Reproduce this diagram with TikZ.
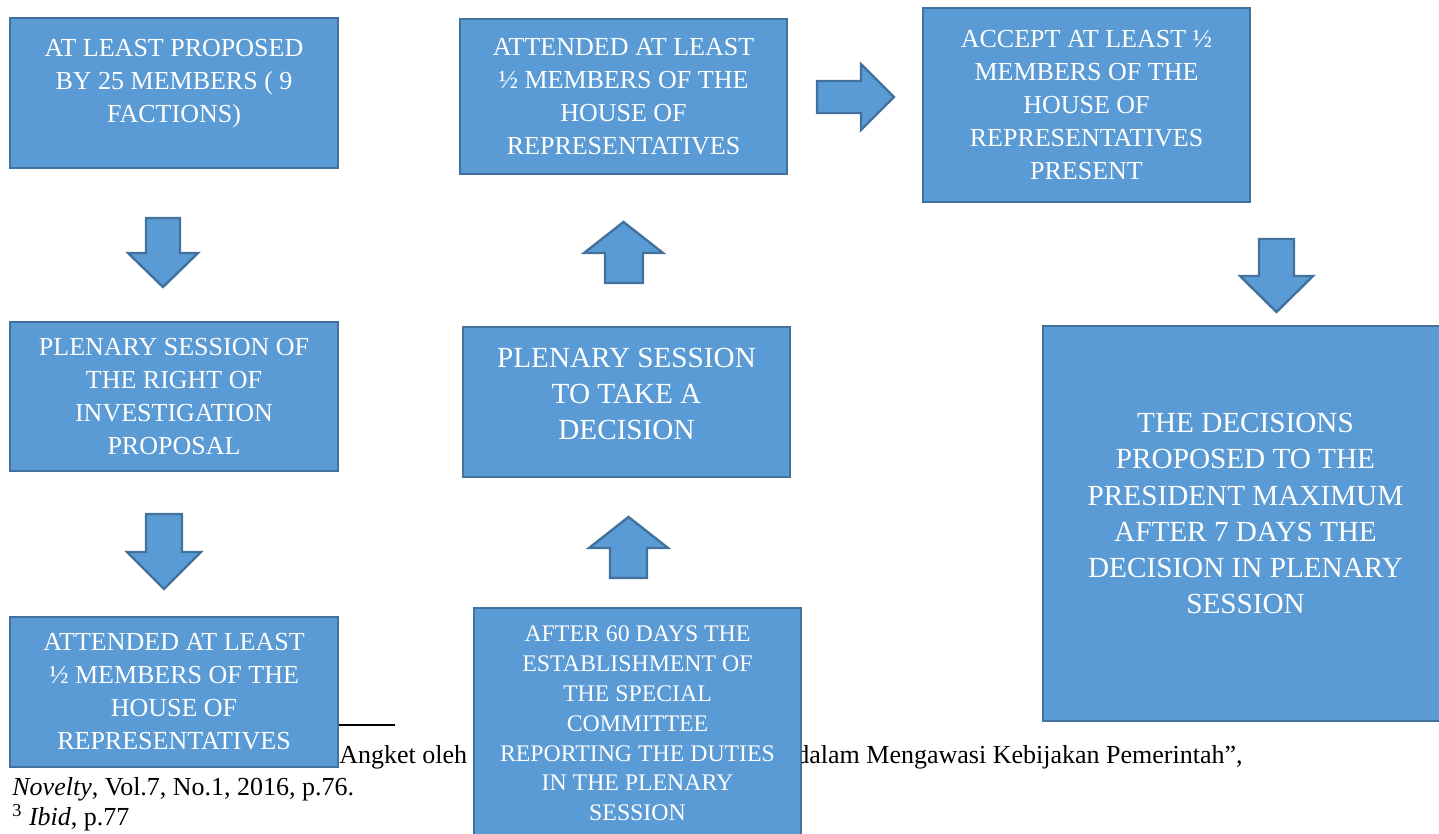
\documentclass[tikz,border=0pt]{standalone}
\usepackage{fontspec}
\setmainfont{Liberation Serif}
\definecolor{boxfill}{HTML}{5B9BD5}
\definecolor{boxedge}{HTML}{41719C}

\begin{document}
\begin{tikzpicture}[x=0.5pt,y=-0.5pt,
  stagebox/.style={draw=boxedge,fill=boxfill,line width=1.2pt,text=white,align=center,inner sep=0pt},
  smalltxt/.style={font=\fontsize{13}{16.5}\selectfont},
  bigtxt/.style={font=\fontsize{14.6}{18.1}\selectfont},
  tinytxt/.style={font=\fontsize{11.9}{14.9}\selectfont},
  blockarr/.style={draw=boxedge,fill=boxfill,line width=1.2pt,line join=miter},
  note/.style={anchor=base west,inner sep=0pt,font=\fontsize{13}{15}\selectfont}]
  \clip (0,0) rectangle (1439,834);
  % footnote lying under the chart
  \draw[line width=1pt] (10,725) -- (395,725);
  \node[note] (fn1) at (339,763) {Angket oleh};
  \node[note] (fn2) at (796,763) {dalam Mengawasi Kebijakan Pemerintah”,};
  \node[note] (fn3) at (12,795) {\textit{Novelty}, Vol.7, No.1, 2016, p.76.};
  \node[note] (fn4) at (12,825) {\textsuperscript{3} \textit{Ibid}, p.77};

  % left column
  \node[stagebox,smalltxt,text depth=12pt,minimum width=164pt,minimum height=75pt] (propose) at (174,93)
    {AT LEAST PROPOSED\\BY 25 MEMBERS ( 9\\FACTIONS)};
  \node[stagebox,smalltxt,minimum width=164pt,minimum height=74.5pt] (plenary1) at (174,396.5)
    {PLENARY SESSION OF\\THE RIGHT OF\\INVESTIGATION\\PROPOSAL};
  \node[stagebox,smalltxt,minimum width=164pt,minimum height=75pt] (attend1) at (174,692)
    {ATTENDED AT LEAST\\½ MEMBERS OF THE\\HOUSE OF\\REPRESENTATIVES};

  % middle column
  \node[stagebox,tinytxt,minimum width=163.5pt,minimum height=115.5pt] (report) at (637.5,723.5)
    {AFTER 60 DAYS THE\\ESTABLISHMENT OF\\THE SPECIAL\\COMMITTEE\\REPORTING THE DUTIES\\IN THE PLENARY\\SESSION};
  \node[stagebox,bigtxt,text depth=8pt,minimum width=163.5pt,minimum height=75pt] (plenary2) at (626.5,402)
    {PLENARY SESSION\\TO TAKE A\\DECISION};
  \node[stagebox,smalltxt,minimum width=163.5pt,minimum height=77.5pt] (attend2) at (623.5,96.5)
    {ATTENDED AT LEAST\\½ MEMBERS OF THE\\HOUSE OF\\REPRESENTATIVES};

  % right column
  \node[stagebox,smalltxt,minimum width=163.5pt,minimum height=97pt] (accept) at (1086.5,105)
    {ACCEPT AT LEAST ½\\MEMBERS OF THE\\HOUSE OF\\REPRESENTATIVES\\PRESENT};
  \node[stagebox,bigtxt,text depth=10pt,minimum width=202.5pt,minimum height=197.5pt] (decide) at (1245.5,523.5)
    {THE DECISIONS\\PROPOSED TO THE\\PRESIDENT MAXIMUM\\AFTER 7 DAYS THE\\DECISION IN PLENARY\\SESSION};

  % block arrows
  \draw[blockarr] (146,218) -- (180,218) -- (180,253) -- (198,253) -- (163,287)
    -- (128,253) -- (146,253) -- cycle;
  \draw[blockarr] (146,514) -- (182,514) -- (182,552) -- (201,552) -- (164,589)
    -- (127,552) -- (146,552) -- cycle;
  \draw[blockarr] (610,578) -- (647,578) -- (647,548) -- (668,548) -- (628.5,517)
    -- (589,548) -- (610,548) -- cycle;
  \draw[blockarr] (605,283) -- (643,283) -- (643,253) -- (663,253) -- (623.5,222)
    -- (584,253) -- (605,253) -- cycle;
  \draw[blockarr] (817,81) -- (861,81) -- (861,64) -- (894,97) -- (861,130)
    -- (861,113) -- (817,113) -- cycle;
  \draw[blockarr] (1259,239) -- (1294,239) -- (1294,276) -- (1313,276) -- (1276.5,312)
    -- (1240,276) -- (1259,276) -- cycle;
\end{tikzpicture}
\end{document}
